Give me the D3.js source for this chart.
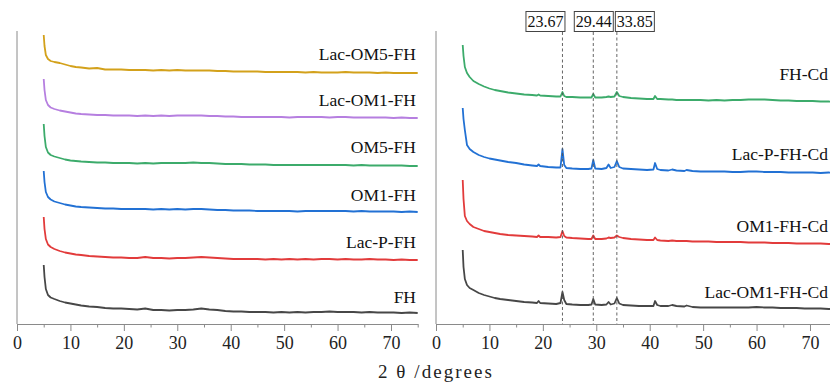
<!DOCTYPE html>
<html>
<head>
<meta charset="utf-8">
<script src="https://cdn.jsdelivr.net/npm/d3@7"></script>
<style>
  body { margin: 0; background: #fff; }
  svg { display: block; }
  .lbl { font-family: "Liberation Serif", "Times New Roman", serif; font-size: 17.5px; fill: #111; }
</style>
</head>
<body>
<svg id="chart" width="830" height="383"></svg>
<script>
// 2theta grids (degrees)
var xLeft = [5, 5.15, 5.4, 5.8, 6.3, 7, 8, 9, 10, 11, 12, 13.5, 15, 16.5, 18, 19.5, 21, 22.5, 24, 25.5, 27, 28.5, 30,
    31.5, 33, 34.5, 36, 37.5, 39, 40.5, 42, 43.5, 45, 46.5, 48, 49.5, 51, 52.5, 54, 55.5, 57, 58.5, 60,
    61.5, 63, 64.5, 66, 67.5, 69, 70.5, 72, 73.5, 75];
var xRight = [5, 5.15, 5.4, 5.8, 6.3, 7, 8, 9, 10, 11, 12, 13.5, 15, 16.5, 18, 18.9, 19.2, 19.5, 21, 22.5, 23.3, 23.67, 24.0, 24.4,
    25.5, 27, 28.5, 29.1, 29.44, 29.8, 31, 31.9, 32.3, 32.7, 33.4, 33.85, 34.3, 35, 36.5, 38, 39.5, 40.7, 41.0, 41.4, 42,
    43.5, 44.2, 45, 46.5, 46.9, 48, 49.5, 51, 52.5, 54, 55.5, 57, 58.5, 60, 61.5, 63, 64.5, 66, 67.5, 69, 70.5, 72, 73.5, 75];

// intensities (a.u., above each pattern's own baseline)
var FH         = [48, 36, 24, 18, 15.5, 14, 12, 10.5, 9.5, 8.5, 7.5, 6.5, 6, 5, 4.5, 4.5, 4, 3.5, 4.5, 3, 3, 2.5, 3,
    3, 3.5, 4.5, 3.5, 3, 2, 1.5, 1.5, 1, 1, 1, 0.5, 1, 0.5, 1, 0.5, 1, 1, 1.5, 1, 1, 1, 0.5, 1, 0.5, 0.5, 0.5, 0, 0.5, 0];
var LacP_FH    = [43, 31, 21, 15.5, 13, 11, 9, 7.5, 6.5, 5.5, 5, 4, 3.5, 3, 2.5, 2.5, 2, 2, 3, 2, 2, 1.5, 2,
    2, 2.5, 3, 2.5, 2, 1.5, 1, 1, 1, 1, 0.5, 1, 0.5, 1, 0.5, 1, 0.5, 1, 1, 0.5, 1, 0.5, 0.5, 1, 0.5, 0.5, 0, 0.5, 0, 0];
var OM1_FH     = [41, 30, 20, 15, 12.5, 10.5, 9, 7.5, 6.5, 5.5, 5, 4.5, 4, 3.5, 3.5, 3, 3, 3, 3, 2.5, 3, 2.5, 3,
    2.5, 3, 3, 2.5, 2, 2, 1.5, 1.5, 1.5, 1, 1, 1, 1, 1, 0.5, 1, 1, 1, 1, 1, 1, 0.5, 1, 0.5, 0.5, 0.5, 0.5, 0, 0.5, 0];
var OM5_FH     = [42, 30, 19, 13.5, 11, 9.5, 8, 6.5, 5.5, 5, 4.5, 4, 3.5, 3.5, 3, 3, 3, 2.5, 3, 2.5, 3, 3, 3,
    3, 3.5, 3, 3, 2.5, 2, 2, 2, 1.5, 1.5, 1.5, 1, 1, 1, 1, 1, 1, 1, 1, 1, 1, 0.5, 1, 0.5, 0.5, 0.5, 0.5, 0.5, 0, 0];
var LacOM1_FH  = [39, 28, 18, 13, 10.5, 9, 7.5, 6.5, 5.5, 4.5, 4, 3.5, 3, 3, 2.5, 2.5, 2.5, 2, 2.5, 2, 2.5, 2, 2.5,
    2.5, 2.5, 2.5, 2, 2, 1.5, 1.5, 1, 1, 1, 1, 1, 1, 0.5, 1, 1, 1, 1, 0.5, 1, 1, 0.5, 0.5, 0.5, 0.5, 0.5, 0, 0.5, 0, 0];
var LacOM5_FH  = [38, 27, 18, 14, 12, 11, 10, 8.5, 7, 6, 5.5, 4.5, 5, 3.5, 3.5, 3.5, 3, 3, 3, 2.5, 3, 2.5, 3,
    2.5, 2.5, 2.5, 2.5, 2, 2, 1.5, 1.5, 1.5, 1.5, 1, 1, 1, 1, 1, 0.5, 1, 0.5, 0.5, 0.5, 1, 0.5, 0.5, 0.5, 0, 0.5, 0, 0, 0, 0];

var LacOM1_FH_Cd = [59, 42, 30, 24, 21, 19, 16, 14, 12.5, 11, 10, 9, 8, 7, 6.5, 6, 8, 6, 5.5, 5, 6, 17, 9, 5,
    4.5, 4, 4, 4.5, 10, 4.5, 4, 4.5, 7, 4.5, 5.5, 11, 5.5, 4, 3.5, 3, 3, 3, 8, 4, 3,
    3, 4, 3, 2.5, 3.5, 2, 1.5, 1.5, 1.5, 1.5, 1.5, 1.5, 1.5, 2, 1.5, 1.5, 1, 1, 1, 0.5, 0.5, 0.5, 0, 0];
var OM1_FH_Cd    = [64, 45, 28, 23, 20, 17, 15, 13, 12, 11, 10, 9, 8.5, 8, 7.5, 7, 8.5, 7, 7, 6.5, 7, 13, 8, 6.5,
    6, 5.5, 5, 5, 8.5, 5, 5, 5.5, 6.5, 6, 6.5, 8.5, 7, 6, 5, 4.5, 4, 4, 6.5, 4, 3.5,
    3, 3.5, 3, 3, 3, 2.5, 2.5, 2.5, 2, 2, 2, 2, 1.5, 1.5, 1.5, 1, 1, 1, 0.5, 0.5, 0.5, 0.5, 0, 0];
var LacP_FH_Cd   = [65, 54, 43, 28, 24, 21, 18, 16, 14.5, 13.5, 12.5, 11, 10, 8.5, 7.5, 7, 8.5, 7, 6, 5.5, 5.5, 24, 8, 5,
    4.5, 4, 4, 4.5, 13, 4.5, 4, 5, 8.5, 5, 6, 12, 6, 4.5, 4, 3.5, 3, 3.5, 10, 4, 3,
    2.5, 3.5, 2.5, 2, 3, 2, 1.5, 1.5, 1.5, 1.5, 1, 1, 1.5, 1.5, 1, 1, 1, 0.5, 0.5, 0.5, 0.5, 0, 0.5, 0];
var FH_Cd        = [57, 46, 35, 29, 25, 21, 18, 15.5, 13.5, 12, 11, 9.5, 8.5, 7.5, 7, 6.5, 7.5, 6.5, 6, 5.5, 5.5, 10, 6, 5,
    5, 4.5, 4.5, 4.5, 8, 4.5, 4.5, 5, 5.5, 5, 5.5, 10, 6, 5, 4, 3.5, 3, 3, 6, 3, 3,
    2.5, 2.5, 2, 2, 2, 2, 2, 1.5, 2, 1.5, 2, 2, 2.5, 2.5, 2.5, 2, 1.5, 1.5, 1, 1, 1, 0.5, 0.5, 0];

// stacking
var leftNames   = ["FH", "Lac-P-FH", "OM1-FH", "OM5-FH", "Lac-OM1-FH", "Lac-OM5-FH"];
var leftSeries  = [FH, LacP_FH, OM1_FH, OM5_FH, LacOM1_FH, LacOM5_FH];
var leftOffsets = [11, 64, 112, 158, 206, 251];
var rightNames   = ["Lac-OM1-FH-Cd", "OM1-FH-Cd", "Lac-P-FH-Cd", "FH-Cd"];
var rightSeries  = [LacOM1_FH_Cd, OM1_FH_Cd, LacP_FH_Cd, FH_Cd];
var rightOffsets = [15, 80, 151, 222];

// marked reflections
var peakPos = [23.67, 29.44, 33.85];
var peakLabels = ["23.67", "29.44", "33.85"];

var xTicks = [0, 10, 20, 30, 40, 50, 60, 70];
var xMinor = [5, 15, 25, 35, 45, 55, 65, 75];

var leftColors  = ["#474747", "#e23b3b", "#2271d4", "#3cab6b", "#b67fe0", "#d3a11b"];
var rightColors = ["#474747", "#e23b3b", "#2271d4", "#3cab6b"];

var svg = d3.select("#chart");
var axisColor = "#8a8a8a";

var y = d3.scaleLinear().domain([0, 294]).range([324, 30]);

function drawPanel(x0, names, series, offsets, colors, grid, labelX, lifts) {
    var x = d3.scaleLinear().domain([0, 75]).range([x0, x0 + 400.7]);
    var g = svg.append("g");

    // x axis with major + minor ticks
    var ax = g.append("g").attr("transform", "translate(0,324)")
        .call(d3.axisBottom(x).tickValues(xTicks).tickSize(7).tickSizeOuter(0).tickPadding(5));
    ax.attr("font-family", null).attr("font-size", null);
    ax.select(".domain").attr("stroke", axisColor);
    ax.selectAll(".tick line").attr("stroke", axisColor);
    ax.selectAll(".tick text")
        .style("font-family", "'Liberation Serif', 'Times New Roman', serif")
        .style("font-size", "18px").style("fill", "#222");
    var axm = g.append("g").attr("transform", "translate(0,324)")
        .call(d3.axisBottom(x).tickValues(xMinor).tickSize(3.5).tickFormat(""));
    axm.select(".domain").remove();
    axm.selectAll(".tick line").attr("stroke", axisColor);

    // y axis line
    g.append("line").attr("x1", x(0)).attr("x2", x(0))
        .attr("y1", y(293)).attr("y2", y(0))
        .attr("stroke", axisColor).attr("stroke-width", 1);

    var line = d3.line()
        .x(function (d) { return x(d[0]); })
        .y(function (d) { return y(d[1]); });

    series.forEach(function (s, i) {
        var pts = s.map(function (v, j) { return [grid[j], v + offsets[i]]; });
        g.append("path").datum(pts)
            .attr("d", line)
            .attr("fill", "none")
            .attr("stroke", colors[i])
            .attr("stroke-width", 1.8)
            .attr("stroke-linejoin", "round");
        g.append("text").attr("class", "lbl")
            .attr("x", labelX)
            .attr("y", y(offsets[i] + lifts[i]))
            .attr("text-anchor", "end")
            .text(names[i]);
    });
    return x;
}

drawPanel(17, leftNames, leftSeries, leftOffsets, leftColors, xLeft, 416, [10, 12, 11, 13, 12, 13]);
var xR = drawPanel(436, rightNames, rightSeries, rightOffsets, rightColors, xRight, 828, [11, 12, 13, 22]);

// reference lines and value boxes
var anchors = ["end", "middle", "start"];
peakPos.forEach(function (p, i) {
    var px = xR(p);
    svg.append("line").attr("x1", px).attr("x2", px)
        .attr("y1", 32).attr("y2", 324)
        .attr("stroke", "#555").attr("stroke-width", 0.9)
        .attr("stroke-dasharray", "3,2.5");
    var w = 39, h = 20;
    var bx = anchors[i] === "end" ? px - w + 2 : anchors[i] === "middle" ? px - w / 2 : px - 2;
    svg.append("rect").attr("x", bx + 0.5).attr("y", 11.5)
        .attr("width", w).attr("height", h)
        .attr("fill", "#fff").attr("stroke", "#444").attr("stroke-width", 1);
    svg.append("text").attr("class", "lbl")
        .attr("x", bx + w / 2 + 0.5).attr("y", 27)
        .attr("text-anchor", "middle")
        .style("font-size", "16px")
        .text(peakLabels[i]);
});

// x title
svg.append("text")
    .attr("x", 378).attr("y", 378)
    .attr("textLength", 114).attr("lengthAdjust", "spacing")
    .style("font-family", "'Liberation Serif', serif")
    .style("font-size", "19px").style("fill", "#222")
    .text("2 θ /degrees");
</script>
</body>
</html>
